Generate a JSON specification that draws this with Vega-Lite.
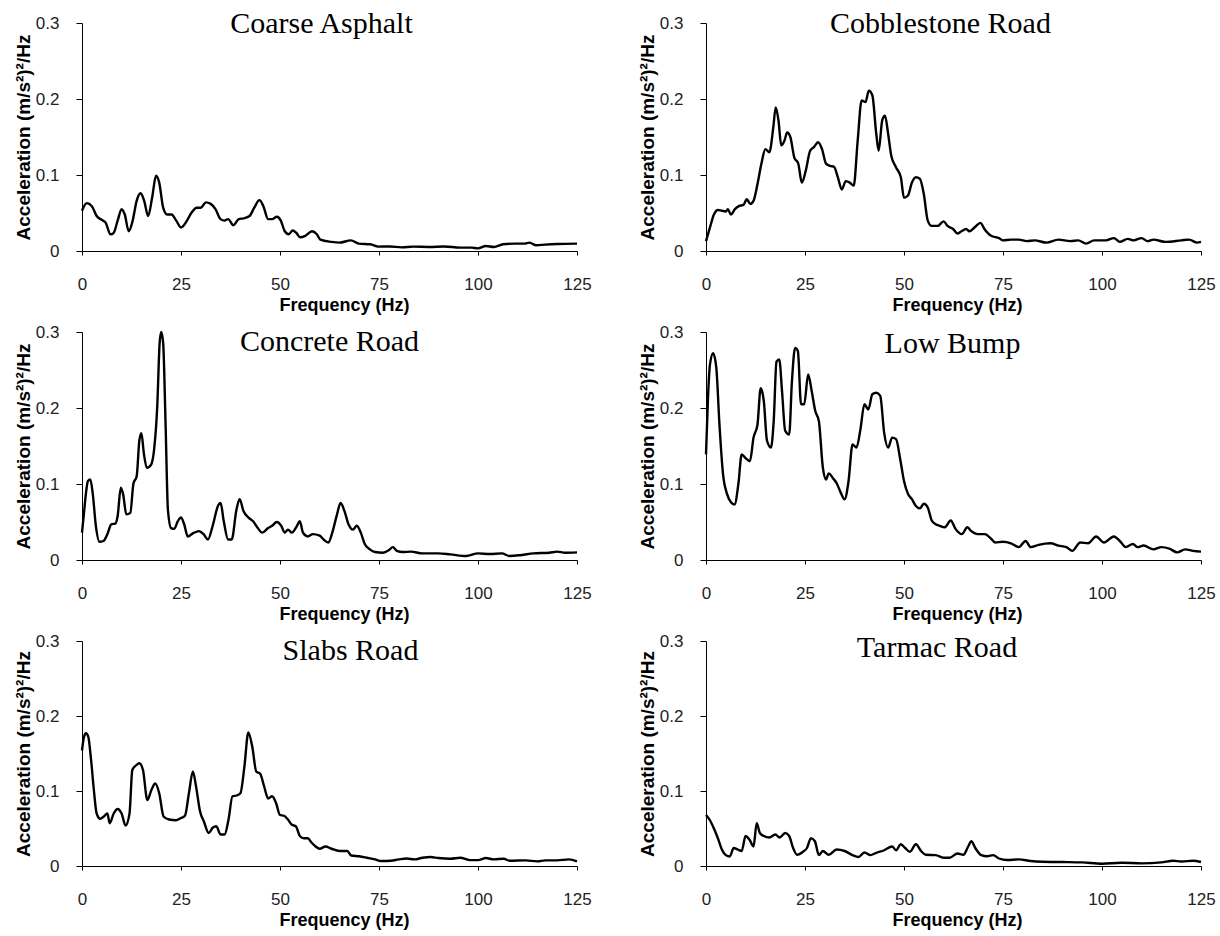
{
  "$schema": "https://vega.github.io/schema/vega-lite/v6.json",
  "background": "white",
  "padding": {"left": 14, "top": 9, "right": 5, "bottom": 5},
  "bounds": "flush",
  "columns": 2,
  "spacing": {"row": 81, "column": 129},
  "config": {
    "view": {"stroke": null},
    "axis": {
      "grid": false,
      "domainColor": "black",
      "tickColor": "black",
      "labelFont": "Liberation Sans",
      "labelFontSize": 17,
      "labelColor": "#222",
      "titleFont": "Liberation Sans",
      "titleFontSize": 18,
      "titleFontWeight": "bold",
      "titleColor": "black"
    },
    "axisX": {"tickSize": 4, "labelPadding": 21, "titlePadding": 4, "labelFlush": false},
    "axisY": {"tickSize": 6, "labelPadding": 17, "titlePadding": 2, "titleFontSize": 19, "format": ".1~f"},
    "title": {"font": "Liberation Serif", "fontSize": 30, "fontWeight": "normal", "color": "black", "frame": "group", "anchor": "middle", "baseline": "alphabetic"},
    "line": {"color": "black", "strokeWidth": 2.4, "interpolate": "monotone"}
  },
  "datasets": {
    "coarse": [
      {"f":0,"a":0.053},{"f":1.2,"a":0.063},{"f":2.5,"a":0.059},{"f":3.7,"a":0.046},{"f":5,"a":0.041},{"f":6,"a":0.037},{"f":7.2,"a":0.022},{"f":8,"a":0.024},{"f":9,"a":0.04},{"f":10,"a":0.055},{"f":10.8,"a":0.048},{"f":11.8,"a":0.026},{"f":12.8,"a":0.04},{"f":13.8,"a":0.066},{"f":14.8,"a":0.076},{"f":15.7,"a":0.066},{"f":16.7,"a":0.046},{"f":17.7,"a":0.07},{"f":18.7,"a":0.099},{"f":19.5,"a":0.09},{"f":20.5,"a":0.057},{"f":21.5,"a":0.048},{"f":22.6,"a":0.048},{"f":23.8,"a":0.04},{"f":25,"a":0.031},{"f":26.4,"a":0.039},{"f":27.6,"a":0.05},{"f":29,"a":0.057},{"f":30,"a":0.057},{"f":31.3,"a":0.064},{"f":32.5,"a":0.062},{"f":33.7,"a":0.055},{"f":35,"a":0.042},{"f":36,"a":0.04},{"f":36.9,"a":0.042},{"f":38.2,"a":0.034},{"f":39.6,"a":0.042},{"f":40.8,"a":0.043},{"f":42.3,"a":0.046},{"f":43.5,"a":0.057},{"f":44.8,"a":0.067},{"f":45.8,"a":0.059},{"f":47,"a":0.042},{"f":48,"a":0.042},{"f":49.2,"a":0.045},{"f":50.2,"a":0.04},{"f":51.2,"a":0.026},{"f":52.2,"a":0.022},{"f":53.2,"a":0.027},{"f":54.1,"a":0.024},{"f":55.1,"a":0.018},{"f":56.4,"a":0.02},{"f":58.1,"a":0.026},{"f":59.3,"a":0.022},{"f":60.2,"a":0.015},{"f":63,"a":0.012},{"f":65,"a":0.011},{"f":67.9,"a":0.014},{"f":69.9,"a":0.0097},{"f":72.8,"a":0.0088},{"f":74.8,"a":0.0057},{"f":77.8,"a":0.006},{"f":80.7,"a":0.0048},{"f":83.7,"a":0.0057},{"f":87.6,"a":0.0053},{"f":91.5,"a":0.006},{"f":95.5,"a":0.0044},{"f":98.4,"a":0.0044},{"f":100,"a":0.0035},{"f":102,"a":0.0066},{"f":104,"a":0.0053},{"f":106.3,"a":0.0088},{"f":109.3,"a":0.0097},{"f":111.7,"a":0.0097},{"f":113,"a":0.011},{"f":114.7,"a":0.0075},{"f":117,"a":0.0084},{"f":120,"a":0.0092},{"f":125,"a":0.0097}
    ],
    "cobble": [
      {"f":0,"a":0.013},{"f":1,"a":0.031},{"f":2,"a":0.048},{"f":3,"a":0.054},{"f":4,"a":0.053},{"f":5,"a":0.052},{"f":5.5,"a":0.055},{"f":6.3,"a":0.048},{"f":7.3,"a":0.055},{"f":8.3,"a":0.059},{"f":9.5,"a":0.061},{"f":10.3,"a":0.068},{"f":11.2,"a":0.062},{"f":12,"a":0.066},{"f":13,"a":0.088},{"f":14,"a":0.115},{"f":15,"a":0.134},{"f":16,"a":0.13},{"f":17,"a":0.163},{"f":17.6,"a":0.189},{"f":18.3,"a":0.172},{"f":19,"a":0.139},{"f":19.8,"a":0.145},{"f":20.5,"a":0.156},{"f":21.3,"a":0.15},{"f":22.3,"a":0.123},{"f":23.3,"a":0.115},{"f":24.2,"a":0.09},{"f":25.2,"a":0.106},{"f":26.3,"a":0.132},{"f":27.3,"a":0.137},{"f":28.3,"a":0.143},{"f":29.3,"a":0.134},{"f":30.3,"a":0.115},{"f":31.3,"a":0.112},{"f":32.3,"a":0.111},{"f":33.3,"a":0.097},{"f":34.3,"a":0.081},{"f":35.3,"a":0.092},{"f":36.3,"a":0.09},{"f":37.3,"a":0.086},{"f":38.3,"a":0.145},{"f":39.3,"a":0.198},{"f":40.3,"a":0.196},{"f":41.1,"a":0.211},{"f":42,"a":0.205},{"f":43,"a":0.154},{"f":43.6,"a":0.132},{"f":44.5,"a":0.172},{"f":45.2,"a":0.178},{"f":46,"a":0.154},{"f":46.8,"a":0.125},{"f":48,"a":0.11},{"f":49.2,"a":0.097},{"f":50,"a":0.07},{"f":51,"a":0.073},{"f":52,"a":0.09},{"f":53,"a":0.097},{"f":54,"a":0.095},{"f":55,"a":0.075},{"f":56,"a":0.04},{"f":57,"a":0.033},{"f":58.5,"a":0.033},{"f":60,"a":0.039},{"f":61,"a":0.033},{"f":62.4,"a":0.029},{"f":63.5,"a":0.023},{"f":64.5,"a":0.026},{"f":65.7,"a":0.029},{"f":66.5,"a":0.026},{"f":68,"a":0.032},{"f":69.3,"a":0.037},{"f":70.3,"a":0.029},{"f":72,"a":0.02},{"f":74,"a":0.017},{"f":75,"a":0.014},{"f":77,"a":0.015},{"f":79,"a":0.015},{"f":81,"a":0.013},{"f":83,"a":0.014},{"f":86,"a":0.011},{"f":89,"a":0.015},{"f":92,"a":0.013},{"f":94,"a":0.014},{"f":96,"a":0.0097},{"f":98,"a":0.014},{"f":101,"a":0.014},{"f":103,"a":0.017},{"f":104.5,"a":0.012},{"f":106.5,"a":0.016},{"f":108,"a":0.014},{"f":110,"a":0.017},{"f":111.5,"a":0.013},{"f":113,"a":0.015},{"f":116,"a":0.012},{"f":120,"a":0.014},{"f":122,"a":0.015},{"f":124,"a":0.011},{"f":125,"a":0.012}
    ],
    "concrete": [
      {"f":0,"a":0.036},{"f":0.5,"a":0.062},{"f":1,"a":0.088},{"f":1.5,"a":0.104},{"f":2.1,"a":0.106},{"f":2.7,"a":0.088},{"f":3.5,"a":0.045},{"f":4.4,"a":0.024},{"f":5.4,"a":0.025},{"f":6.4,"a":0.034},{"f":7.4,"a":0.047},{"f":8.4,"a":0.048},{"f":9,"a":0.058},{"f":9.8,"a":0.095},{"f":10.4,"a":0.086},{"f":11.2,"a":0.06},{"f":12.2,"a":0.062},{"f":13,"a":0.101},{"f":13.8,"a":0.11},{"f":14.5,"a":0.158},{"f":15,"a":0.167},{"f":15.6,"a":0.141},{"f":16.4,"a":0.121},{"f":17.4,"a":0.125},{"f":18.2,"a":0.145},{"f":19,"a":0.202},{"f":19.6,"a":0.285},{"f":20,"a":0.3},{"f":20.5,"a":0.285},{"f":21.1,"a":0.18},{"f":21.7,"a":0.066},{"f":22.5,"a":0.042},{"f":23.3,"a":0.041},{"f":24.2,"a":0.051},{"f":25,"a":0.056},{"f":25.8,"a":0.047},{"f":26.7,"a":0.031},{"f":28,"a":0.035},{"f":29.5,"a":0.038},{"f":30.7,"a":0.034},{"f":31.8,"a":0.027},{"f":33,"a":0.045},{"f":34.4,"a":0.072},{"f":35,"a":0.075},{"f":35.8,"a":0.051},{"f":36.9,"a":0.027},{"f":37.8,"a":0.027},{"f":39,"a":0.066},{"f":39.8,"a":0.08},{"f":40.8,"a":0.064},{"f":42,"a":0.056},{"f":43.2,"a":0.051},{"f":44.4,"a":0.042},{"f":45.5,"a":0.036},{"f":47,"a":0.042},{"f":48,"a":0.045},{"f":49.2,"a":0.05},{"f":50.3,"a":0.045},{"f":51.2,"a":0.036},{"f":52,"a":0.04},{"f":53,"a":0.036},{"f":54.3,"a":0.045},{"f":55,"a":0.051},{"f":55.8,"a":0.036},{"f":57,"a":0.031},{"f":58.3,"a":0.034},{"f":60,"a":0.032},{"f":61,"a":0.027},{"f":62.2,"a":0.023},{"f":63.2,"a":0.036},{"f":64.4,"a":0.06},{"f":65.3,"a":0.075},{"f":66.3,"a":0.064},{"f":67.3,"a":0.047},{"f":68.4,"a":0.04},{"f":69.4,"a":0.045},{"f":70.4,"a":0.036},{"f":71.4,"a":0.021},{"f":72.7,"a":0.014},{"f":74,"a":0.0105},{"f":76,"a":0.0096},{"f":77.5,"a":0.013},{"f":78.5,"a":0.017},{"f":79.5,"a":0.012},{"f":81,"a":0.0105},{"f":83,"a":0.011},{"f":86,"a":0.0087},{"f":90,"a":0.0087},{"f":93,"a":0.0074},{"f":97,"a":0.0052},{"f":100,"a":0.0087},{"f":103,"a":0.0079},{"f":106,"a":0.0087},{"f":108,"a":0.0052},{"f":111,"a":0.0066},{"f":114,"a":0.0087},{"f":118,"a":0.0096},{"f":120,"a":0.011},{"f":122,"a":0.0096},{"f":125,"a":0.01}
    ],
    "lowbump": [
      {"f":0,"a":0.139},{"f":0.5,"a":0.213},{"f":1,"a":0.257},{"f":1.8,"a":0.272},{"f":2.6,"a":0.253},{"f":3.4,"a":0.178},{"f":4.3,"a":0.113},{"f":5.3,"a":0.087},{"f":6.3,"a":0.076},{"f":7.2,"a":0.073},{"f":8.2,"a":0.101},{"f":9,"a":0.139},{"f":10,"a":0.134},{"f":11.1,"a":0.13},{"f":12,"a":0.161},{"f":13,"a":0.178},{"f":13.8,"a":0.226},{"f":14.6,"a":0.209},{"f":15.4,"a":0.157},{"f":16.4,"a":0.148},{"f":17.1,"a":0.183},{"f":17.8,"a":0.261},{"f":18.5,"a":0.264},{"f":19.2,"a":0.222},{"f":20,"a":0.17},{"f":21,"a":0.165},{"f":21.7,"a":0.235},{"f":22.5,"a":0.279},{"f":23.2,"a":0.275},{"f":24,"a":0.205},{"f":24.8,"a":0.205},{"f":25.8,"a":0.244},{"f":26.7,"a":0.222},{"f":27.6,"a":0.196},{"f":28.5,"a":0.183},{"f":29.5,"a":0.122},{"f":30.3,"a":0.106},{"f":31,"a":0.114},{"f":32,"a":0.108},{"f":33,"a":0.101},{"f":34,"a":0.089},{"f":35,"a":0.08},{"f":36,"a":0.104},{"f":37,"a":0.152},{"f":38,"a":0.148},{"f":39,"a":0.172},{"f":40,"a":0.205},{"f":41,"a":0.198},{"f":42,"a":0.218},{"f":43,"a":0.22},{"f":44,"a":0.216},{"f":45,"a":0.167},{"f":46,"a":0.148},{"f":47,"a":0.161},{"f":48,"a":0.159},{"f":49,"a":0.134},{"f":50,"a":0.104},{"f":51,"a":0.087},{"f":52,"a":0.08},{"f":53,"a":0.071},{"f":54,"a":0.068},{"f":55,"a":0.074},{"f":56,"a":0.069},{"f":57,"a":0.052},{"f":58,"a":0.047},{"f":59,"a":0.045},{"f":60.3,"a":0.043},{"f":61.8,"a":0.052},{"f":63,"a":0.041},{"f":64.6,"a":0.034},{"f":66,"a":0.043},{"f":67,"a":0.038},{"f":68.6,"a":0.034},{"f":70.4,"a":0.034},{"f":72,"a":0.028},{"f":73,"a":0.023},{"f":75,"a":0.024},{"f":77,"a":0.022},{"f":79,"a":0.017},{"f":80.7,"a":0.025},{"f":82,"a":0.017},{"f":84,"a":0.02},{"f":87,"a":0.022},{"f":89,"a":0.019},{"f":91,"a":0.017},{"f":92.5,"a":0.012},{"f":94.5,"a":0.023},{"f":96.5,"a":0.022},{"f":98.5,"a":0.031},{"f":100.5,"a":0.023},{"f":103,"a":0.031},{"f":104.5,"a":0.025},{"f":106,"a":0.017},{"f":107.8,"a":0.021},{"f":109,"a":0.017},{"f":110.5,"a":0.019},{"f":113,"a":0.014},{"f":115,"a":0.017},{"f":117,"a":0.015},{"f":119,"a":0.01},{"f":121,"a":0.014},{"f":123,"a":0.012},{"f":125,"a":0.011}
    ],
    "slabs": [
      {"f":0,"a":0.154},{"f":0.5,"a":0.172},{"f":1,"a":0.177},{"f":1.6,"a":0.172},{"f":2.3,"a":0.141},{"f":3,"a":0.101},{"f":3.7,"a":0.07},{"f":4.6,"a":0.063},{"f":5.5,"a":0.066},{"f":6.4,"a":0.07},{"f":7,"a":0.057},{"f":8,"a":0.07},{"f":9,"a":0.076},{"f":10,"a":0.07},{"f":11,"a":0.054},{"f":12,"a":0.07},{"f":12.7,"a":0.128},{"f":13.6,"a":0.134},{"f":14.5,"a":0.137},{"f":15.4,"a":0.128},{"f":16.5,"a":0.088},{"f":17.5,"a":0.101},{"f":18.5,"a":0.11},{"f":19.5,"a":0.097},{"f":20.6,"a":0.066},{"f":22,"a":0.062},{"f":23.7,"a":0.061},{"f":25,"a":0.064},{"f":26,"a":0.067},{"f":27,"a":0.097},{"f":28,"a":0.126},{"f":28.8,"a":0.106},{"f":29.8,"a":0.073},{"f":30.8,"a":0.059},{"f":32,"a":0.044},{"f":33,"a":0.051},{"f":33.9,"a":0.053},{"f":35,"a":0.042},{"f":36,"a":0.042},{"f":37,"a":0.062},{"f":38,"a":0.093},{"f":39,"a":0.094},{"f":40,"a":0.097},{"f":41,"a":0.132},{"f":42,"a":0.178},{"f":43,"a":0.159},{"f":44,"a":0.126},{"f":45,"a":0.123},{"f":46,"a":0.106},{"f":47,"a":0.09},{"f":48,"a":0.093},{"f":49,"a":0.084},{"f":50,"a":0.068},{"f":51,"a":0.067},{"f":52,"a":0.062},{"f":53,"a":0.055},{"f":54,"a":0.053},{"f":55,"a":0.04},{"f":56,"a":0.037},{"f":57,"a":0.037},{"f":58,"a":0.031},{"f":59,"a":0.026},{"f":60,"a":0.023},{"f":61.5,"a":0.026},{"f":63,"a":0.023},{"f":65,"a":0.02},{"f":67,"a":0.02},{"f":68,"a":0.014},{"f":70,"a":0.013},{"f":72,"a":0.011},{"f":74,"a":0.0088},{"f":75.5,"a":0.0066},{"f":78,"a":0.007},{"f":80,"a":0.0088},{"f":82,"a":0.01},{"f":84,"a":0.0088},{"f":86,"a":0.011},{"f":88,"a":0.012},{"f":90,"a":0.0106},{"f":93,"a":0.0097},{"f":95.5,"a":0.011},{"f":98,"a":0.0079},{"f":100,"a":0.0079},{"f":102,"a":0.0106},{"f":104,"a":0.0088},{"f":106.5,"a":0.0097},{"f":108,"a":0.007},{"f":112,"a":0.0075},{"f":115,"a":0.0062},{"f":117,"a":0.0075},{"f":120,"a":0.0075},{"f":123,"a":0.0088},{"f":125,"a":0.0062}
    ],
    "tarmac": [
      {"f":0,"a":0.068},{"f":1,"a":0.061},{"f":2,"a":0.05},{"f":3,"a":0.037},{"f":4,"a":0.022},{"f":5,"a":0.0145},{"f":6,"a":0.0127},{"f":7,"a":0.024},{"f":8,"a":0.022},{"f":9,"a":0.02},{"f":10,"a":0.04},{"f":11,"a":0.035},{"f":12,"a":0.026},{"f":12.8,"a":0.057},{"f":13.6,"a":0.044},{"f":14.6,"a":0.04},{"f":16,"a":0.038},{"f":17.5,"a":0.042},{"f":18.6,"a":0.038},{"f":20,"a":0.044},{"f":21,"a":0.04},{"f":22,"a":0.024},{"f":23,"a":0.015},{"f":24.5,"a":0.019},{"f":25.5,"a":0.024},{"f":26.5,"a":0.037},{"f":27.5,"a":0.033},{"f":28.5,"a":0.0145},{"f":29.5,"a":0.02},{"f":31,"a":0.015},{"f":33,"a":0.022},{"f":35,"a":0.02},{"f":37,"a":0.0145},{"f":38.5,"a":0.012},{"f":40,"a":0.018},{"f":41.5,"a":0.0145},{"f":43,"a":0.0176},{"f":45,"a":0.021},{"f":47,"a":0.026},{"f":48,"a":0.021},{"f":49.2,"a":0.029},{"f":50.3,"a":0.024},{"f":51.5,"a":0.019},{"f":53,"a":0.029},{"f":54.3,"a":0.02},{"f":55.5,"a":0.015},{"f":58,"a":0.0145},{"f":60,"a":0.011},{"f":61.5,"a":0.011},{"f":63.5,"a":0.0167},{"f":65,"a":0.015},{"f":66.2,"a":0.026},{"f":67,"a":0.033},{"f":68,"a":0.024},{"f":69.5,"a":0.0145},{"f":71,"a":0.013},{"f":72.5,"a":0.0145},{"f":74,"a":0.01},{"f":76,"a":0.008},{"f":79,"a":0.0088},{"f":82,"a":0.0066},{"f":85,"a":0.0057},{"f":90,"a":0.0053},{"f":95,"a":0.0048},{"f":100,"a":0.0031},{"f":105,"a":0.0044},{"f":110,"a":0.0035},{"f":115,"a":0.0048},{"f":118,"a":0.007},{"f":120,"a":0.0061},{"f":123,"a":0.007},{"f":125,"a":0.0053}
    ]
  },
  "concat": [
    {
      "data": {"name": "coarse"},
      "width": 495, "height": 228,
      "title": {"text": "Coarse Asphalt", "dx": -8, "offset": -25.3},
      "mark": {"type": "line"},
      "encoding": {
        "x": {"field": "f", "type": "quantitative", "scale": {"domain": [0, 125], "nice": false}, "axis": {"values": [0, 25, 50, 75, 100, 125], "title": "Frequency (Hz)", "titleX": 262}},
        "y": {"field": "a", "type": "quantitative", "scale": {"domain": [0, 0.3], "nice": false}, "axis": {"values": [0, 0.1, 0.2, 0.3], "title": "Acceleration (m/s²)²/Hz"}}
      }
    },
    {
      "data": {"name": "cobble"},
      "width": 495, "height": 228,
      "title": {"text": "Cobblestone Road", "dx": -13, "offset": -25.3},
      "mark": {"type": "line"},
      "encoding": {
        "x": {"field": "f", "type": "quantitative", "scale": {"domain": [0, 125], "nice": false}, "axis": {"values": [0, 25, 50, 75, 100, 125], "title": "Frequency (Hz)", "titleX": 251}},
        "y": {"field": "a", "type": "quantitative", "scale": {"domain": [0, 0.3], "nice": false}, "axis": {"values": [0, 0.1, 0.2, 0.3], "title": "Acceleration (m/s²)²/Hz"}}
      }
    },
    {
      "data": {"name": "concrete"},
      "width": 495, "height": 228,
      "title": {"text": "Concrete Road", "dx": 0, "offset": -33.8},
      "mark": {"type": "line"},
      "encoding": {
        "x": {"field": "f", "type": "quantitative", "scale": {"domain": [0, 125], "nice": false}, "axis": {"values": [0, 25, 50, 75, 100, 125], "title": "Frequency (Hz)", "titleX": 262}},
        "y": {"field": "a", "type": "quantitative", "scale": {"domain": [0, 0.3], "nice": false}, "axis": {"values": [0, 0.1, 0.2, 0.3], "title": "Acceleration (m/s²)²/Hz"}}
      }
    },
    {
      "data": {"name": "lowbump"},
      "width": 495, "height": 228,
      "title": {"text": "Low Bump", "dx": -1, "offset": -35.8},
      "mark": {"type": "line"},
      "encoding": {
        "x": {"field": "f", "type": "quantitative", "scale": {"domain": [0, 125], "nice": false}, "axis": {"values": [0, 25, 50, 75, 100, 125], "title": "Frequency (Hz)", "titleX": 251}},
        "y": {"field": "a", "type": "quantitative", "scale": {"domain": [0, 0.3], "nice": false}, "axis": {"values": [0, 0.1, 0.2, 0.3], "title": "Acceleration (m/s²)²/Hz"}}
      }
    },
    {
      "data": {"name": "slabs"},
      "width": 495, "height": 225,
      "title": {"text": "Slabs Road", "dx": 21, "offset": -34.3},
      "mark": {"type": "line"},
      "encoding": {
        "x": {"field": "f", "type": "quantitative", "scale": {"domain": [0, 125], "nice": false}, "axis": {"values": [0, 25, 50, 75, 100, 125], "title": "Frequency (Hz)", "titleX": 262}},
        "y": {"field": "a", "type": "quantitative", "scale": {"domain": [0, 0.3], "nice": false}, "axis": {"values": [0, 0.1, 0.2, 0.3], "title": "Acceleration (m/s²)²/Hz"}}
      }
    },
    {
      "data": {"name": "tarmac"},
      "width": 495, "height": 225,
      "title": {"text": "Tarmac Road", "dx": -16.5, "offset": -31.3},
      "mark": {"type": "line"},
      "encoding": {
        "x": {"field": "f", "type": "quantitative", "scale": {"domain": [0, 125], "nice": false}, "axis": {"values": [0, 25, 50, 75, 100, 125], "title": "Frequency (Hz)", "titleX": 251}},
        "y": {"field": "a", "type": "quantitative", "scale": {"domain": [0, 0.3], "nice": false}, "axis": {"values": [0, 0.1, 0.2, 0.3], "title": "Acceleration (m/s²)²/Hz"}}
      }
    }
  ]
}
